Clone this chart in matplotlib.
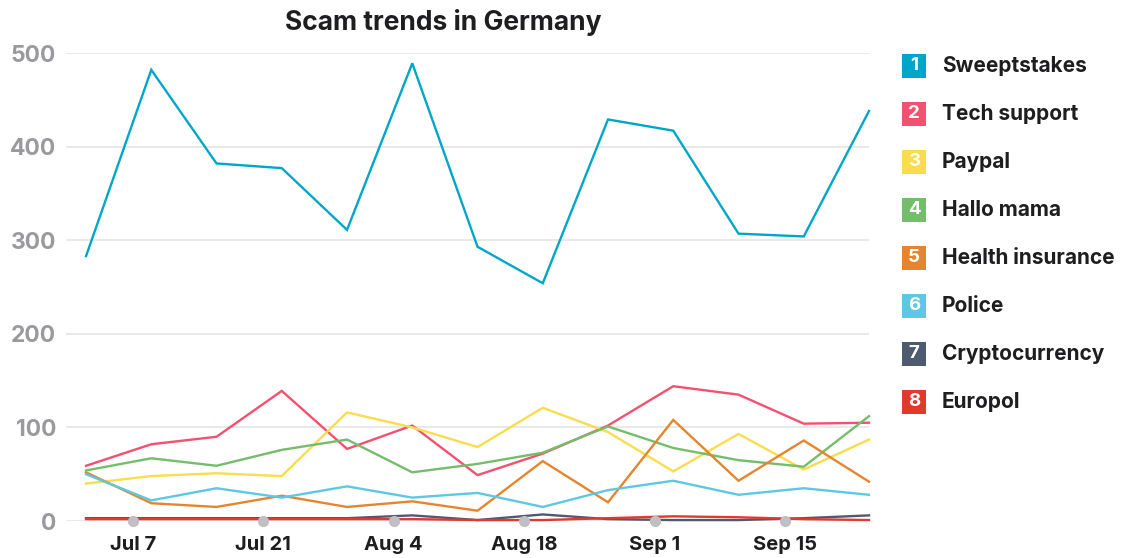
import matplotlib
matplotlib.use("Agg")
import matplotlib.pyplot as plt
import matplotlib.dates as mdates
import pandas as pd
from matplotlib.patches import Rectangle


W, H = 1126, 558

plt.rcParams["font.family"] = ["Inter", "DejaVu Sans"]

# weekly data points
WEEKS = pd.to_datetime([
    "2024-07-02", "2024-07-09", "2024-07-16", "2024-07-23", "2024-07-30",
    "2024-08-06", "2024-08-13", "2024-08-20", "2024-08-27", "2024-09-03",
    "2024-09-10", "2024-09-17", "2024-09-24",
])
TICK_DATES = pd.to_datetime([
    "2024-07-07", "2024-07-21", "2024-08-04", "2024-08-18", "2024-09-01", "2024-09-15",
])
TICK_LABELS = ["Jul 7", "Jul 21", "Aug 4", "Aug 18", "Sep 1", "Sep 15"]
Y_TICKS = [0, 100, 200, 300, 400, 500]

NAMES = [
    "Sweeptstakes", "Tech support", "Paypal", "Hallo mama",
    "Health insurance", "Police", "Cryptocurrency", "Europol",
]
COLORS = [
    "#00a6c9", "#f4506f", "#fbdc4c", "#74bd6b",
    "#e5852e", "#5ec8e2", "#4d5a70", "#e03a2f",
]

sweepstakes = [283, 482, 382, 377, 311, 489, 293, 254, 429, 417, 307, 304, 438]
tech_support = [59, 82, 90, 139, 77, 102, 49, 72, 102, 144, 135, 104, 105]
paypal = [40, 48, 51, 48, 116, 100, 79, 121, 95, 53, 93, 55, 87]
hallo_mama = [54, 67, 59, 76, 87, 52, 61, 73, 101, 78, 65, 58, 112]
health_insurance = [52, 19, 15, 27, 15, 21, 11, 64, 20, 108, 43, 86, 42]
police = [50, 22, 35, 25, 37, 25, 30, 15, 33, 43, 28, 35, 28]
cryptocurrency = [3, 3, 3, 3, 3, 6, 1, 7, 2, 1, 1, 3, 6]
europol = [2, 2, 2, 2, 2, 2, 1, 1, 3, 5, 4, 2, 1]

SERIES = [sweepstakes, tech_support, paypal, hallo_mama,
          health_insurance, police, cryptocurrency, europol]

TEXT = "#1e1e20"
GREY = "#9a9a9e"


def px(x, y):
    return x / W, 1 - y / H


fig = plt.figure(figsize=(W / 100, H / 100), dpi=100, facecolor="white")
ax = fig.add_axes([66 / W, 1 - 521 / H, (869 - 66) / W, (521 - 53) / H])

for name, color, vals in zip(NAMES, COLORS, SERIES):
    ax.plot(WEEKS, vals, color=color, lw=1.7, clip_on=False,
            solid_joinstyle="miter", zorder=3)

ax.set_ylim(0, 500)
ax.set_xlim(WEEKS[0] - pd.Timedelta(days=2.15), WEEKS[-1])
ax.set_yticks(Y_TICKS)
ax.set_yticklabels([str(v) for v in Y_TICKS], fontsize=16.5, fontweight="bold", color=GREY)
ax.set_xticks(mdates.date2num(TICK_DATES))
ax.set_xticklabels(TICK_LABELS, fontsize=14.5, fontweight="bold", color=TEXT)
ax.tick_params(axis="y", length=0, pad=7)
ax.tick_params(axis="x", length=0, pad=11)
ax.grid(axis="y", color="#e7e7e9", lw=1.3, zorder=0)
ax.grid(axis="x", visible=False)
for s in ax.spines.values():
    s.set_visible(False)

ax.scatter(TICK_DATES, [0] * len(TICK_DATES), s=65, color="#c0c0c4",
           zorder=10, clip_on=False, linewidths=0)

fig.text(*px(443, 22), "Scam trends in Germany", ha="center", va="center",
         fontsize=19, fontweight="bold", color=TEXT)

# legend
for i, (name, color) in enumerate(zip(NAMES, COLORS)):
    cy = 66 + 48 * i
    x0, y0 = px(902, cy + 12)
    rect = Rectangle((x0, y0), 24 / W, 24 / H, transform=fig.transFigure,
                     facecolor=color, edgecolor="none")
    fig.add_artist(rect)
    fig.text(*px(914, cy), str(i + 1), ha="center", va="center",
             fontsize=13.5, fontweight="bold", color="white")
    fig.text(*px(942, cy), name, ha="left", va="center",
             fontsize=15, fontweight="bold", color=TEXT)

fig.savefig("out.png", dpi=100, facecolor="white")
